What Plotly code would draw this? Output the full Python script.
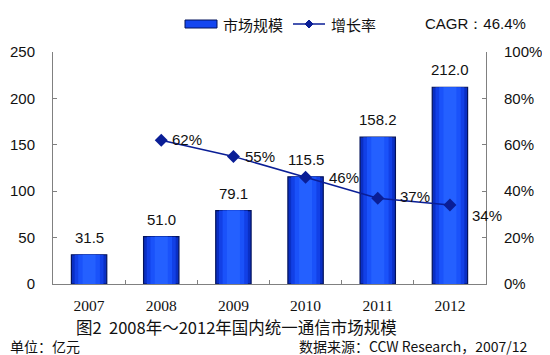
import plotly.graph_objects as go

years = ["2007", "2008", "2009", "2010", "2011", "2012"]
market_size = [31.5, 51.0, 79.1, 115.5, 158.2, 212.0]
growth_years = ["2008", "2009", "2010", "2011", "2012"]
growth_rate = [0.62, 0.55, 0.46, 0.37, 0.34]
growth_labels = ["62%", "55%", "46%", "37%", "34%"]

OFF = 8  # page body margin
W, H = 550 - OFF, 355 - OFF
SX0, SX1, SY0, SY1 = 53, 486, 52, 284
ML, MT = SX0 - OFF, SY0 - OFF
MR, MB = W - (SX1 - OFF), H - (SY1 - OFF)
PW, PH = SX1 - SX0, SY1 - SY0


def px(x):
    return (x - SX0) / PW


def py(y):
    return (SY1 - y) / PH


SANS = "Liberation Sans, Arial, sans-serif"
SERIF = "Liberation Serif, Times New Roman, serif"
CJK = "Noto Sans CJK SC, sans-serif"

fig = go.Figure()

layers = [
    (0.49, "#0a2fc4", dict(color="#03125a", width=1.2)),
    (0.40, "#1240e6", dict(width=0)),
    (0.30, "#1a52fa", dict(width=0)),
    (0.18, "#2460ff", dict(width=0)),
]
for w, c, ln in layers:
    fig.add_trace(go.Bar(
        x=years, y=market_size, width=w,
        marker=dict(color=c, line=ln),
        showlegend=False, hoverinfo="skip",
    ))

fig.add_trace(go.Scatter(
    x=growth_years, y=growth_rate, yaxis="y2", mode="lines+markers",
    line=dict(color="#0a1e96", width=1.5),
    marker=dict(symbol="diamond", size=10, color="#0a1e96"),
    showlegend=False,
))

ann = []
for yr, v in zip(years, market_size):
    ann.append(dict(x=years.index(yr), y=v, xref="x", yref="y", text=f"{v:.1f}",
                    showarrow=False, yanchor="bottom", yshift=7,
                    font=dict(family=SANS, size=15, color="#111")))

label_xshift = [9, 10, 21, 20, 20]
label_yshift = [1, 0, 0, 2, -10]
for yr, r, t, sx, sy in zip(growth_years, growth_rate, growth_labels, label_xshift, label_yshift):
    ann.append(dict(x=years.index(yr), y=r, xref="x", yref="y2", text=t,
                    showarrow=False, xanchor="left", xshift=sx, yshift=sy,
                    font=dict(family=SANS, size=15, color="#111")))

ann.append(dict(x=px(221), y=py(24), xref="paper", yref="paper", text="市场规模",
                showarrow=False, xanchor="left", yanchor="middle",
                font=dict(family=CJK, size=15, color="#111")))
ann.append(dict(x=px(329), y=py(24), xref="paper", yref="paper", text="增长率",
                showarrow=False, xanchor="left", yanchor="middle",
                font=dict(family=CJK, size=15, color="#111")))
ann.append(dict(x=px(423), y=py(23), xref="paper", yref="paper", text="CAGR：46.4%",
                showarrow=False, xanchor="left", yanchor="middle",
                font=dict(family=SANS, size=15, color="#111")))

ann.append(dict(x=px(236), y=py(327), xref="paper", yref="paper",
                text="图2  2008年～2012年国内统一通信市场规模",
                showarrow=False, xanchor="center", yanchor="middle",
                font=dict(family=CJK, size=16.5, color="#111")))
ann.append(dict(x=px(8), y=py(346), xref="paper", yref="paper", text="单位：亿元",
                showarrow=False, xanchor="left", yanchor="middle",
                font=dict(family=CJK, size=14, color="#111")))
ann.append(dict(x=px(297), y=py(346), xref="paper", yref="paper",
                text="数据来源：CCW Research，2007/12",
                showarrow=False, xanchor="left", yanchor="middle",
                font=dict(family=CJK, size=14, color="#111")))

shapes = [
    dict(type="rect", xref="paper", yref="paper",
         x0=px(185), x1=px(217), y0=py(28), y1=py(20),
         fillcolor="#1446f0", line=dict(color="#03125a", width=1)),
    dict(type="line", xref="paper", yref="paper",
         x0=px(293), x1=px(325), y0=py(24), y1=py(24),
         line=dict(color="#0a1e96", width=1.5)),
    dict(type="path", xref="paper", yref="paper",
         path=f"M {px(309)},{py(20)} L {px(313)},{py(24)} L {px(309)},{py(28)} L {px(305)},{py(24)} Z",
         fillcolor="#0a1e96", line=dict(color="#0a1e96", width=1)),
]

axis_color = "#808080"
fig.update_layout(
    width=W, height=H,
    margin=dict(l=ML, r=MR, t=MT, b=MB, pad=0, autoexpand=False),
    paper_bgcolor="white", plot_bgcolor="white",
    barmode="overlay", showlegend=False,
    annotations=ann, shapes=shapes,
    xaxis=dict(type="category", showline=True, linecolor=axis_color, linewidth=1,
               ticks="inside", tickson="boundaries", ticklen=4, tickcolor=axis_color,
               showgrid=False, zeroline=False, ticklabelstandoff=7, automargin=False,
               tickfont=dict(family=SERIF, size=15.5, color="#111"),
               range=[-0.5, 5.5]),
    yaxis=dict(range=[0, 250], dtick=50, showline=True, linecolor=axis_color,
               ticks="inside", ticklen=4, tickcolor=axis_color, showgrid=False,
               zeroline=False, ticklabelstandoff=14, automargin=False,
               tickfont=dict(family=SANS, size=15, color="#111")),
    yaxis2=dict(range=[0, 1], dtick=0.2, tickformat=".0%", overlaying="y", side="right",
                showline=True, linecolor=axis_color, ticks="inside", ticklen=4,
                tickcolor=axis_color, showgrid=False, zeroline=False,
                ticklabelstandoff=14, automargin=False,
                tickfont=dict(family=SANS, size=15, color="#111")),
)

fig.write_html("out.html")
